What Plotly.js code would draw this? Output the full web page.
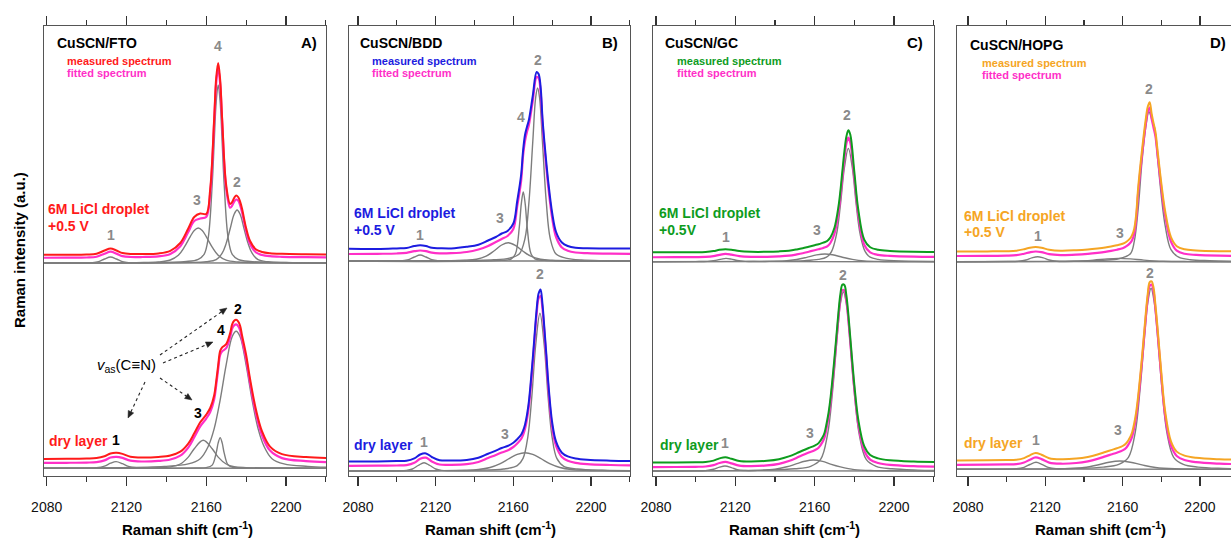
<!DOCTYPE html>
<html><head><meta charset="utf-8">
<script src="https://cdn.plot.ly/plotly-3.0.1.min.js"></script>
<style>html,body{margin:0;padding:0;overflow:hidden;background:#fff}#chart{width:1245px;height:540px}</style>
</head><body><div id="chart"></div>
<script>
// ---------- data (intensities in a.u., relative to each spectrum's component baseline) ----------
const shift = [2074,2090,2100,2105,2109,2112,2115,2118,2122,2128,2136,2142,2147,2151,2154,2157,2160,2162,2164,2165,2166,2167,2168,2170,2172,2173,2174,2175,2176,2177,2178,2180,2182,2185,2188,2192,2198,2210,2221];
const xTicks = [2080, 2120, 2160, 2200];

// A) CuSCN/FTO
const fto_drop_meas = [8.2,8.3,8.5,9.3,12.5,14.5,12.5,10,9,9,9.6,12.2,20,34.5,46,49.5,49,74,145,185,200,183,144,78,59,61,65,67.5,66,61.5,54,35,22,13.5,11,9.8,9.2,8.8,8.6];
const fto_drop_fit  = [5.2,5.3,5.5,6.3,9.3,11.3,9.4,6.9,6,6,6.6,9,16.7,31,42,44.5,46,70,141,180,195.5,179,140.5,74.6,55.3,57.3,61.3,63.5,62.5,57.9,50.5,32,19,10.5,8,6.8,6.2,5.8,5.6];
const fto_drop_p1_x = [2074,2098,2103,2106,2109,2112,2115,2118,2121,2126,2221];
const fto_drop_p1_y = [0,0.1,0.4,1.45,4,6,4,1.45,0.4,0.1,0];
const fto_drop_p3_x = [2074,2125,2136,2142,2146,2149,2152,2154,2156,2158,2160,2163,2166,2170,2176,2190,2221];
const fto_drop_p3_y = [0,0.4,1,3,7.7,15.8,26.4,32.5,35,32.5,26.4,15.8,7.7,2.8,1,0.4,0];
const fto_drop_p4_x = [2074,2150,2156,2159,2161,2163,2164,2165,2166,2167,2168,2169,2171,2173,2176,2182,2221];
const fto_drop_p4_y = [0,1.5,3.7,8.9,25,79,121,161,178,161,121,79,25,8.9,3.7,1.5,0];
const fto_drop_p2_x = [2074,2150,2160,2165,2168,2170,2172,2174,2175.5,2177,2179,2181,2183,2186,2191,2200,2221];
const fto_drop_p2_y = [0,0.5,1.2,3.3,9.8,19.6,34.2,48.8,53,48.8,34.2,19.6,9.8,3.3,1.2,0.5,0];

const fto_dry_meas = [9.3,9.5,9.8,10.2,12,14.8,15.5,14.4,11.6,10.8,11.4,12.8,16.6,24.7,35,46,53.7,60.3,73.1,87,103.1,117.4,121,124.1,135.2,144,147.5,148.5,147,142.5,132.5,113.5,89.2,58.2,36.9,21.7,14.2,11.2,10.2];
const fto_dry_fit  = [5.35,5.5,5.75,6.2,7.9,10.8,11.5,10.4,7.6,6.8,7.35,8.8,12.6,20.7,31,41.9,49.7,56.3,69.1,83,99.1,113.4,116.9,120.1,131.2,139.6,142.9,143.9,142.2,137.9,128.2,109.5,85.2,54.2,32.9,17.7,10.2,7.2,6.2];
const fto_dry_p1_x = [2074,2100,2105,2109,2112,2114.8,2118,2121,2125,2130,2221];
const fto_dry_p1_y = [0,0.17,0.54,2.2,5.1,6.7,4.6,1.9,0.5,0.2,0];
const fto_dry_p3_x = [2074,2125,2136,2142,2147,2151,2154,2158.5,2163,2166,2170,2174,2180,2192,2221];
const fto_dry_p3_y = [0,0.3,0.65,1.4,4.3,11.2,19.6,28,19.6,11.2,4.3,1.6,0.7,0.3,0];
const fto_dry_p4_x = [2074,2155,2160,2163,2165,2166,2167,2168,2169,2171,2174,2180,2221];
const fto_dry_p4_y = [0,0.25,0.7,3.2,15.4,25.4,30.7,25.4,15.4,3.2,0.7,0.25,0];
const fto_dry_p2_x = [2074,2139,2151,2157,2161,2164,2167,2170,2173,2175,2177,2180,2183,2186,2189,2193,2199,2211,2221];
const fto_dry_p2_y = [0,1.9,4.4,9.6,21.9,39.7,68.5,103.4,131.5,137,131.5,103.4,68.5,39.7,21.9,9.6,4.4,1.9,1];

// B) CuSCN/BDD
const bdd_drop_meas = [12.2,12,12.6,13,15,15.8,15,13.2,12.8,12.6,14.2,16.3,20.5,24,27.5,30,37.5,60,86,110,126,134,141,165,189,187,175,143,119,98,79,48,29,18.5,15,13.2,12.8,12.4,12.5];
const bdd_drop_fit  = [7,7.2,7.5,8.2,9.8,10.5,9.8,8.3,7.6,7.8,9,11.5,15,19,22,25,32,55,80,105,120,129,136,160,184,183,170,138,114,93,74,43,24,13.5,10.3,8.5,7.8,7.3,7.2];
const bdd_drop_p1_x = [2074,2098,2103,2106,2109,2112,2115,2118,2121,2126,2221];
const bdd_drop_p1_y = [0,0.1,0.4,1.45,4,6,4,1.45,0.4,0.1,0];
const bdd_drop_p3_x = [2074,2125,2135,2141,2146,2150,2154,2157.4,2161,2165,2169,2174,2180,2195,2221];
const bdd_drop_p3_y = [0,0.3,0.7,1.8,4.9,10,16,18.3,15.7,9.7,4.8,1.8,0.7,0.2,0];
const bdd_drop_p4_x = [2074,2154,2159,2161.1,2163.1,2164.1,2165.1,2166.1,2167.1,2169.1,2171.1,2176,2221];
const bdd_drop_p4_y = [0,0.6,2.2,7.2,34.5,57.2,69,57.2,34.5,7.2,2.2,0.6,0];
const bdd_drop_p2_x = [2074,2150,2158,2163,2166,2168,2170,2171.5,2172.5,2173.5,2175,2177,2179,2182,2187,2195,2221];
const bdd_drop_p2_y = [0,1.2,2.9,6.9,22.5,58,119,163.5,173,163.5,119,58,22.5,6.9,2.9,1,0];

const bdd_dry_meas = [9.5,9.6,9.9,10.2,12.6,16.5,17.6,14,10.8,10.5,11.1,13.3,17.3,20.4,23,25,28.3,31.8,36.3,40.3,46.3,55.8,69.3,112.5,161.5,177.5,181.5,167,142.5,116.5,88.5,48.5,29.3,18.3,14.6,12.5,11.2,10.3,9.9];
const bdd_dry_fit  = [5.2,5.3,5.5,5.9,8.2,12.2,13.3,9.5,6.5,6.2,6.8,9,13,16,18.5,20.5,24,27.5,32,36,42,51.5,65,108,157,172.6,175,162,138,112,84,44,25,14,10.3,8.2,6.9,6,5.6];
const bdd_dry_p1_x = [2074,2100,2105,2108,2111,2114,2117,2120,2123,2128,2221];
const bdd_dry_p1_y = [0,0.2,0.6,2,5.5,8.3,5.5,2,0.6,0.2,0];
const bdd_dry_p3_x = [2074,2120,2135,2142,2148,2153,2158,2162,2166,2170,2174,2179,2184,2190,2197,2210,2221];
const bdd_dry_p3_y = [0,0.3,0.68,1.46,3.5,7.1,12.6,16.6,18.3,16.6,12.6,7.1,3.5,1.46,0.68,0.35,0];
const bdd_dry_p2_x = [2074,2140,2155,2162,2165,2167.5,2169.5,2171.5,2173.7,2175.9,2177.9,2179.9,2182.4,2186,2193,2206,2221];
const bdd_dry_p2_y = [0,0.66,2,5.4,12.6,34.7,74,126,157.7,126,74,34.7,12.6,4.7,2,0.7,0.3];

// C) CuSCN/GC
const gc_drop_meas = [9.3,9.4,9.5,9.8,10.6,11.9,12.5,12,10.6,9.9,9.9,10.3,11,12.3,13.5,15,16.5,17.5,18.8,19.5,20.3,22,24.5,34,55,71,91,110,125,131.5,127,90,52,22,14.4,11.9,10.8,10,9.8];
const gc_drop_fit  = [4.4,4.5,4.6,4.8,5.6,6.9,7.8,7.1,5.6,4.9,4.9,5.3,6,7.3,8.5,10,11.5,12.5,13.5,14.2,15,16.5,19,28,49,65,84,103,118,124,119,84,47,17,9.4,6.9,5.8,5,4.8];
const gc_drop_p1_x = [2074,2100,2106,2110,2113,2115.3,2118,2121,2125,2132,2221];
const gc_drop_p1_y = [0,0.1,0.35,1.3,2.6,3.3,2.6,1.2,0.35,0.1,0];
const gc_drop_p3_x = [2074,2120,2135,2145,2151,2156,2161,2165.2,2169,2174,2179,2185,2195,2210,2221];
const gc_drop_p3_y = [0,0.1,0.25,0.8,2.2,4.35,6.8,7.7,6.9,4.5,2.3,0.8,0.25,0.1,0];
const gc_drop_p2_x = [2074,2140,2155,2162,2166,2168.5,2171,2173,2175,2177,2179,2181,2183,2185.5,2188,2192,2200,2221];
const gc_drop_p2_y = [0,0.4,1.1,2.3,4.5,10,27,56.7,94,113.3,94,56.7,27,10,4.5,2.3,0.9,0.3];

const gc_dry_meas = [8.5,8.6,8.8,9.1,10.4,12.6,13.8,12.2,10,9.5,10.2,11.8,14.6,17.8,20.5,23,25.4,27.9,33.7,38.2,47.3,58,73,113,158.5,177,186.4,186,175.5,156.5,133,86.7,51.4,24.8,16,12.6,10.7,9.4,8.9];
const gc_dry_fit  = [3.95,4,4.2,4.5,5.85,8,9.2,7.65,5.4,4.9,5.6,7.2,10,13.2,15.9,18.4,20.8,23.3,29.1,33.6,42.7,53.4,68.4,108.2,153.4,171.4,180.9,180.5,170,151.4,128.3,82.1,46.8,20.2,11.4,8.05,6.1,4.8,4.3];
const gc_dry_p1_x = [2074,2100,2105,2109,2112,2114.8,2118,2121,2125,2130,2221];
const gc_dry_p1_y = [0,0.13,0.4,1.7,3.8,5,3.45,1.3,0.45,0.15,0];
const gc_dry_p3_x = [2074,2115,2130,2140,2146,2151,2155,2159.3,2164,2168,2173,2180,2190,2205,2221];
const gc_dry_p3_y = [0,0.2,0.5,1.7,4.2,7.3,9.7,11,9.6,6.9,4.1,1.4,0.4,0.15,0];
const gc_dry_p2_x = [2074,2135,2150,2158,2163,2166.5,2169,2171.5,2173,2174.5,2176,2177.5,2180,2182.5,2186,2191,2199,2212,2221];
const gc_dry_p2_y = [0,0.86,2.2,4.7,11.6,36.4,78.9,137.3,167.6,179.3,167.6,137.3,78.9,36.4,11.6,4.7,2.2,0.9,0.5];

// D) CuSCN/HOPG
const hopg_drop_meas = [10.2,10.3,10.5,11,12.5,14,14.7,14,12,11,11.5,12.3,13.3,14.3,15.3,16.5,18,20,23.5,27,33,47,73,111,143,155,159.5,148,138.5,129.5,112.5,78.5,50.5,24.5,15.5,12.4,11.3,10.5,10.3];
const hopg_drop_fit  = [5.7,5.8,6,6.5,8,9.4,10.2,9.6,7.5,6.6,7,7.8,8.8,9.8,10.8,12,13.5,15.5,19,22,28,42,68,106,138,150,154,143,134,125,108,74,46,20,11,7.9,6.8,6,5.8];
const hopg_drop_p1_x = [2074,2101,2106,2110,2113,2116,2119,2122,2126,2131,2221];
const hopg_drop_p1_y = [0,0.13,0.4,1.7,3.8,5,3.8,1.7,0.4,0.13,0];
const hopg_drop_p3_x = [2074,2120,2135,2145,2152,2157.8,2164,2171,2181,2195,2221];
const hopg_drop_p3_y = [0,0.1,0.46,1.6,2.8,3.3,2.8,1.6,0.46,0.1,0];
const hopg_drop_p2_x = [2074,2135,2150,2158,2164,2166,2168,2170,2172,2173.6,2175,2176.5,2178,2180,2182,2185,2189,2195,2205,2221];
const hopg_drop_p2_y = [0,0.6,1.5,3,8,20,52,100,135,150,143,134,105,66,36,12,4.5,2,1,0.4];

const hopg_dry_meas = [8.9,9,9.25,9.6,11.2,14,16.3,14.6,11.1,10,10.7,12.4,14.8,17.3,19.2,21,23.3,26.3,32.7,37.6,46,57.2,72.7,111.9,156.4,175.5,187.2,188,181.5,163.5,143,97.2,57.9,28,17.7,13.65,11.5,10.05,9.5];
const hopg_dry_fit  = [4.5,4.6,4.85,5.2,6.8,9.6,11.85,10.2,6.7,5.6,6.3,8,10.4,12.9,14.8,16.6,18.9,21.9,28.3,33.2,41.6,52.8,68.3,107.5,152,171.3,183.4,184.5,177.6,159.5,138.6,92.8,53.5,23.6,13.3,9.25,7.1,5.65,5.1];
const hopg_dry_p1_x = [2074,2100,2105,2109,2112,2115.2,2118.5,2121.5,2125.5,2131,2221];
const hopg_dry_p1_y = [0,0.17,0.48,2,4.8,7,4.7,2,0.48,0.17,0];
const hopg_dry_p3_x = [2074,2115,2130,2140,2147,2153,2158.6,2164,2170,2177,2187,2200,2221];
const hopg_dry_p3_y = [0,0.18,0.48,1.8,4.3,7.1,8.3,7.1,4.4,1.8,0.48,0.2,0];
const hopg_dry_p2_x = [2074,2135,2150,2158,2163,2166.5,2169,2171.5,2173,2174.7,2176.4,2177.9,2180.4,2182.9,2186.4,2191.4,2199,2212,2221];
const hopg_dry_p2_y = [0,0.9,2.2,4.9,12,36.7,79.6,136.7,166.5,181,166.5,136.7,79.6,36.7,12,4.9,2.2,0.9,0.5];

// ---------- styling ----------
const W = 1245, H = 540;
const F = 'Arial, "Liberation Sans", sans-serif';
const RED = '#ff1a1a', BLUE = '#1c1ce0', GREEN = '#0e9c1e', ORANGE = '#f5a524';
const PINK = '#ff2fc8', GRAY = '#7d7d7d', LG = '#8a8a8a';

const panels = [
  {color: RED, range: [2078.65, 2220.07], px: [44, 326], stacks: [
    {off: 213, meas: fto_drop_meas, fit: fto_drop_fit, peaks: [[fto_drop_p1_x, fto_drop_p1_y],[fto_drop_p3_x, fto_drop_p3_y],[fto_drop_p4_x, fto_drop_p4_y],[fto_drop_p2_x, fto_drop_p2_y]]},
    {off: 7.7, meas: fto_dry_meas, fit: fto_dry_fit, peaks: [[fto_dry_p1_x, fto_dry_p1_y],[fto_dry_p3_x, fto_dry_p3_y],[fto_dry_p4_x, fto_dry_p4_y],[fto_dry_p2_x, fto_dry_p2_y]]}]},
  {color: BLUE, range: [2075.36, 2220.08], px: [349, 630], stacks: [
    {off: 215, meas: bdd_drop_meas, fit: bdd_drop_fit, peaks: [[bdd_drop_p1_x, bdd_drop_p1_y],[bdd_drop_p3_x, bdd_drop_p3_y],[bdd_drop_p4_x, bdd_drop_p4_y],[bdd_drop_p2_x, bdd_drop_p2_y]]},
    {off: 5, meas: bdd_dry_meas, fit: bdd_dry_fit, peaks: [[bdd_dry_p1_x, bdd_dry_p1_y],[bdd_dry_p3_x, bdd_dry_p3_y],[bdd_dry_p2_x, bdd_dry_p2_y]]}]},
  {color: GREEN, range: [2078.49, 2220.19], px: [653, 934], stacks: [
    {off: 214.3, meas: gc_drop_meas, fit: gc_drop_fit, peaks: [[gc_drop_p1_x, gc_drop_p1_y],[gc_drop_p3_x, gc_drop_p3_y],[gc_drop_p2_x, gc_drop_p2_y]]},
    {off: 5, meas: gc_dry_meas, fit: gc_dry_fit, peaks: [[gc_dry_p1_x, gc_dry_p1_y],[gc_dry_p3_x, gc_dry_p3_y],[gc_dry_p2_x, gc_dry_p2_y]]}]},
  {color: ORANGE, range: [2074.31, 2220.2], px: [957, 1239], stacks: [
    {off: 214.3, meas: hopg_drop_meas, fit: hopg_drop_fit, peaks: [[hopg_drop_p1_x, hopg_drop_p1_y],[hopg_drop_p3_x, hopg_drop_p3_y],[hopg_drop_p2_x, hopg_drop_p2_y]]},
    {off: 6.7, meas: hopg_dry_meas, fit: hopg_dry_fit, peaks: [[hopg_dry_p1_x, hopg_dry_p1_y],[hopg_dry_p3_x, hopg_dry_p3_y],[hopg_dry_p2_x, hopg_dry_p2_y]]}]}
];

function line(x, y, off, color, width, n) {
  return {x: x, y: y.map(v => v + off), type: 'scatter', mode: 'lines',
    line: {color: color, width: width, shape: 'spline', smoothing: 1},
    xaxis: 'x' + (n ? n + 1 : ''), yaxis: 'y' + (n ? n + 1 : ''),
    hoverinfo: 'skip', showlegend: false};
}

const traces = [];
const layout = {width: W, height: H, margin: {l: 0, r: 0, t: 0, b: 0}, paper_bgcolor: '#fff', plot_bgcolor: '#fff',
  showlegend: false, annotations: [], shapes: []};
const yDom = [1 - 476 / H, 1 - 26 / H];

panels.forEach((p, i) => {
  p.stacks.forEach(s => {
    s.peaks.forEach(pk => traces.push(line(pk[0], pk[1], s.off, GRAY, 1.4, i)));
    traces.push(line(shift, s.fit, s.off, PINK, 2.2, i));
    traces.push(line(shift, s.meas, s.off, p.color, 2, i));
  });
  const xs = i ? String(i + 1) : '';
  layout['xaxis' + xs] = {domain: [p.px[0] / W, p.px[1] / W], range: p.range, anchor: 'y' + xs,
    tickmode: 'array', tickvals: xTicks, ticktext: xTicks.map(String),
    ticks: 'outside', ticklen: 9, tickwidth: 1.2, tickcolor: '#333', ticklabelstandoff: 9,
    minor: {tickmode: 'linear', tick0: 2080, dtick: 20, ticks: 'outside', ticklen: 5, tickwidth: 1.2, tickcolor: '#333'},
    showline: true, linecolor: '#555', linewidth: 1.3, mirror: 'ticks', showgrid: false, zeroline: false,
    tickfont: {family: F, size: 14, color: '#111'}, fixedrange: true};
  layout['yaxis' + xs] = {domain: yDom, range: [0, 450], anchor: 'x' + xs, showline: true, linecolor: '#555',
    linewidth: 1.3, mirror: true, ticks: '', showticklabels: false, showgrid: false, zeroline: false, fixedrange: true};
});

function T(text, px, py, size, color, anchor, extra) {
  layout.annotations.push(Object.assign({text: text, x: px / W, y: 1 - py / H, xref: 'paper', yref: 'paper',
    showarrow: false, xanchor: anchor || 'center', yanchor: 'middle',
    font: {family: F, size: size, color: color}}, extra || {}));
}
const B = s => '<b>' + s + '</b>';

// panel A
T(B('CuSCN/FTO'), 55, 43, 14, '#000', 'left');
T(B('measured spectrum'), 65, 61, 11, RED, 'left');
T(B('fitted spectrum'), 65, 73, 11, PINK, 'left');
T(B('A)'), 319, 43, 15, '#000', 'right');
T(B('4'), 218, 46, 14, LG); T(B('3'), 197, 200, 14, LG); T(B('2'), 237, 182, 14, LG); T(B('1'), 111, 235, 14, LG);
T(B('6M LiCl droplet'), 46, 209, 14, RED, 'left'); T(B('+0.5 V'), 46, 226, 14, RED, 'left');
T(B('2'), 238, 309, 14, '#000'); T(B('4'), 221, 330, 14, '#000'); T(B('3'), 198, 413, 14, '#000'); T(B('1'), 116, 440, 14, '#000');
T(B('dry layer'), 47, 441, 14, RED, 'left');
T('<i>v</i><sub>as</sub>(C≡N)', 126, 365, 15, '#000');
// panel B
T(B('CuSCN/BDD'), 358, 43, 14, '#000', 'left');
T(B('measured spectrum'), 370, 61, 11, BLUE, 'left');
T(B('fitted spectrum'), 370, 73, 11, PINK, 'left');
T(B('B)'), 620, 43, 15, '#000', 'right');
T(B('2'), 538, 60, 14, LG); T(B('4'), 521, 117, 14, LG); T(B('3'), 500, 218, 14, LG); T(B('1'), 420, 235, 14, LG);
T(B('6M LiCl droplet'), 352, 213, 14, BLUE, 'left'); T(B('+0.5 V'), 352, 230, 14, BLUE, 'left');
T(B('2'), 540, 274, 14, LG); T(B('3'), 505, 434, 14, LG); T(B('1'), 424, 442, 14, LG);
T(B('dry layer'), 352, 445, 14, BLUE, 'left');
// panel C
T(B('CuSCN/GC'), 663, 43, 14, '#000', 'left');
T(B('measured spectrum'), 675, 61, 11, GREEN, 'left');
T(B('fitted spectrum'), 675, 73, 11, PINK, 'left');
T(B('C)'), 925, 43, 15, '#000', 'right');
T(B('2'), 847, 115, 14, LG); T(B('3'), 817, 230, 14, LG); T(B('1'), 726, 237, 14, LG);
T(B('6M LiCl droplet'), 657, 213, 14, GREEN, 'left'); T(B('+0.5V'), 657, 230, 14, GREEN, 'left');
T(B('2'), 843, 275, 14, LG); T(B('3'), 810, 433, 14, LG); T(B('1'), 725, 443, 14, LG);
T(B('dry layer'), 658, 445, 14, GREEN, 'left');
// panel D
T(B('CuSCN/HOPG'), 968, 45, 14, '#000', 'left');
T(B('measured spectrum'), 980, 63, 11, ORANGE, 'left');
T(B('fitted spectrum'), 980, 75, 11, PINK, 'left');
T(B('D)'), 1228, 43, 15, '#000', 'right');
T(B('2'), 1149, 89, 14, LG); T(B('3'), 1120, 233, 14, LG); T(B('1'), 1038, 236, 14, LG);
T(B('6M LiCl droplet'), 962, 216, 14, ORANGE, 'left'); T(B('+0.5 V'), 962, 232, 14, ORANGE, 'left');
T(B('2'), 1150, 273, 14, LG); T(B('3'), 1118, 430, 14, LG); T(B('1'), 1036, 440, 14, LG);
T(B('dry layer'), 962, 443, 14, ORANGE, 'left');
// axis titles
[187, 490, 795, 1100].forEach(cx => T(B('Raman shift (cm<sup>-1</sup>)'), cx, 528, 15, '#000'));
T(B('Raman intensity (a.u.)'), 19, 250, 15, '#000', 'center', {textangle: -90});

// dotted arrows in panel A (dotted shaft + small solid head)
const arrows = [[[160, 355], [227, 308]], [[163, 363], [213, 342]], [[160, 378], [192, 400]], [[145, 382], [128, 418]]];
const P = (x, y) => (x / W).toFixed(5) + ',' + (1 - y / H).toFixed(5);
arrows.forEach(a => {
  const t = a[0], h = a[1];
  const dx = h[0] - t[0], dy = h[1] - t[1], L = Math.hypot(dx, dy), ux = dx / L, uy = dy / L;
  const bx = h[0] - ux * 7, by = h[1] - uy * 7;
  layout.shapes.push({type: 'line', xref: 'paper', yref: 'paper', x0: t[0] / W, y0: 1 - t[1] / H, x1: bx / W, y1: 1 - by / H,
    line: {color: '#222', width: 1.1, dash: 'dot'}});
  layout.shapes.push({type: 'path', xref: 'paper', yref: 'paper',
    path: 'M' + P(h[0], h[1]) + ' L' + P(bx - uy * 3, by + ux * 3) + ' L' + P(bx + uy * 3, by - ux * 3) + ' Z',
    fillcolor: '#222', line: {color: '#222', width: 0.5}});
});

Plotly.newPlot('chart', traces, layout, {staticPlot: true, displayModeBar: false});
</script>
</body></html>
